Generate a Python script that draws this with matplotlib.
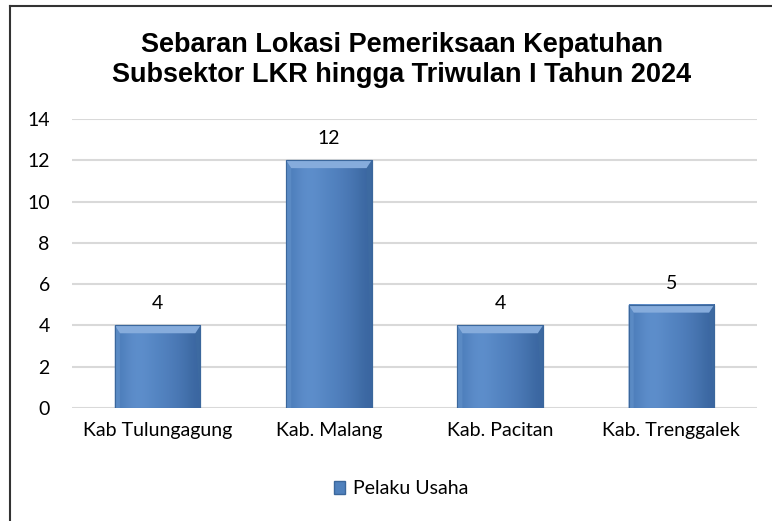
import numpy as np
import matplotlib.pyplot as plt
from matplotlib.patches import Patch
from matplotlib.lines import Line2D

regions = ['Kab Tulungagung', 'Kab. Malang', 'Kab. Pacitan', 'Kab. Trenggalek']
values = [4, 12, 4, 5]
series_name = 'Pelaku Usaha'
title = 'Sebaran Lokasi Pemeriksaan Kepatuhan\nSubsektor LKR hingga Triwulan I Tahun 2024'

W, H = 772, 521
fig = plt.figure(figsize=(W / 100, H / 100), dpi=100)
ax = fig.add_axes([72 / W, 1 - 408 / H, (757 - 72) / W, (408 - 119) / H])

font = ['Lato', 'DejaVu Sans']
fs = 14
base = '#4F81BD'

x = np.arange(len(regions))
bars = ax.bar(x, values, width=0.5, color=base, edgecolor='#3B679C', linewidth=0.8, zorder=2)

# bevel-ish gradient on each bar
cols = np.array([[0.30, 0.49, 0.73], [0.36, 0.55, 0.79], [0.37, 0.56, 0.80],
                 [0.34, 0.53, 0.77], [0.32, 0.51, 0.75], [0.30, 0.48, 0.72],
                 [0.27, 0.45, 0.68], [0.23, 0.40, 0.63]])
img = cols[np.newaxis, :, :]
for b in bars:
    x0, w, h = b.get_x(), b.get_width(), b.get_height()
    ax.imshow(img, extent=[x0, x0 + w, 0, h], aspect='auto', interpolation='bicubic',
              zorder=2.1)
    top = h - 0.38
    ax.fill([x0, x0 + w, x0 + w - 0.03, x0 + 0.03], [h, h, top, top],
            color='#86ACDC', zorder=2.2, lw=0)
    ax.fill([x0 + w - 0.03, x0 + w, x0 + w], [top, h, 0], color='#3D6AA1', zorder=2.15, lw=0)
    ax.fill([x0, x0 + 0.03, x0 + 0.03, x0], [h, top, 0.0, 0.0], color='#5A8AC4', zorder=2.15, lw=0)
    ax.add_patch(plt.Rectangle((x0, 0), w, h, fill=False, edgecolor='#3B679C', lw=0.8, zorder=2.3))
    ax.text(b.get_x() + w / 2, h + 1.05, str(int(h)), ha='center', va='center',
            fontsize=fs, family=font, color='#000000')

ax.set_xlim(-0.5, len(regions) - 0.5)
ax.set_ylim(0, 14)
ax.set_yticks(range(0, 15, 2))
ax.set_xticks(x)
ax.set_xticklabels(regions, family=font, fontsize=fs)
for lab in ax.get_yticklabels():
    lab.set_family(font)
    lab.set_fontsize(fs)
ax.tick_params(axis='y', length=0, pad=16)
ax.tick_params(axis='x', length=0, pad=10)
ax.grid(axis='y', color='#D9D9D9', linewidth=1.5, zorder=0)
ax.set_axisbelow(True)
for s in ax.spines.values():
    s.set_visible(False)

fig.text(402 / W, 1 - 60 / H, title, ha='center', va='center', fontsize=19.5,
         fontweight='bold', family=['Liberation Sans', 'DejaVu Sans'], linespacing=1.2)

handle = Patch(facecolor=base, edgecolor='#3B679C')
fig.legend([handle], [series_name], loc='center', bbox_to_anchor=(401 / W, 1 - 489 / H),
           frameon=False, prop={'family': font, 'size': fs}, handlelength=0.6,
           handleheight=0.6, handletextpad=0.4)

# outer border (top and left)
fig.add_artist(Line2D([10 / W, 1], [1 - 6 / H, 1 - 6 / H], color='#333333', lw=1.5))
fig.add_artist(Line2D([10 / W, 10 / W], [1 - 6 / H, 0], color='#333333', lw=1.5))

fig.savefig('out.png', dpi=100)
